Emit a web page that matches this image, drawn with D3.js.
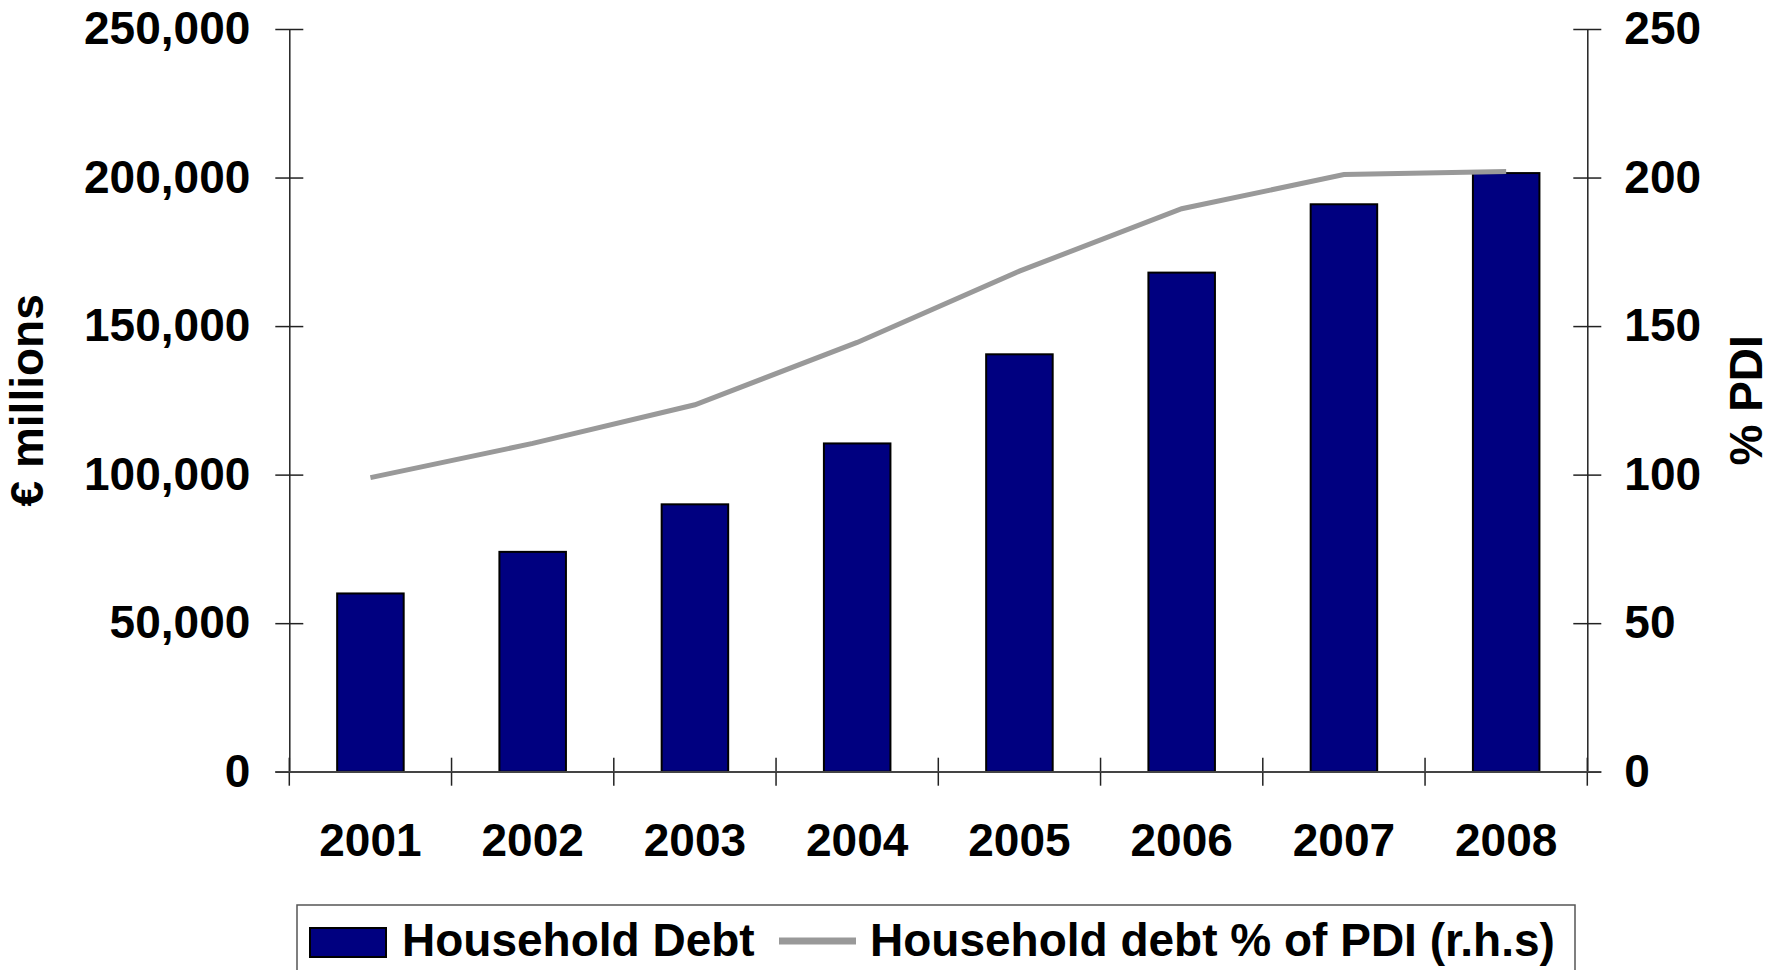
<!DOCTYPE html>
<html>
<head>
<meta charset="utf-8">
<script src="https://cdn.jsdelivr.net/npm/d3@7"></script>
<style>
  html, body { margin: 0; padding: 0; background: #fff; }
  svg { display: block; }
  text { font-family: "Liberation Sans", Arial, sans-serif; font-weight: bold; fill: #000; }
</style>
</head>
<body>
<svg id="chart" width="1777" height="970"></svg>
<script>
// ---- data ----
const years = ["2001", "2002", "2003", "2004", "2005", "2006", "2007", "2008"];
const householdDebt = [60000, 74000, 90000, 110500, 140500, 168000, 191000, 201500];
const debtPctPDI = [99, 110.5, 123.5, 144.5, 168.5, 189.5, 201, 202];
const leftTicks = [0, 50000, 100000, 150000, 200000, 250000];
const rightTicks = [0, 50, 100, 150, 200, 250];
const seriesNames = ["Household Debt", "Household debt % of PDI (r.h.s)"];
const axisTitles = ["€ millions", "% PDI"];

// ---- layout ----
const svg = d3.select("#chart");
const X0 = 289.3, X1 = 1587.3, Y0 = 771.7, Y1 = 29;
const FS = 46;

const x = d3.scaleBand().domain(years).range([X0, X1]).padding(0);
const yL = d3.scaleLinear().domain([0, 250000]).range([Y0, Y1]);
const yR = d3.scaleLinear().domain([0, 250]).range([Y0, Y1]);
const barW = x.bandwidth() * 0.41;

// bars
svg.append("g").selectAll("rect").data(householdDebt).join("rect")
  .attr("x", (d, i) => x(years[i]) + x.bandwidth() / 2 - barW / 2)
  .attr("y", d => yL(d))
  .attr("width", barW)
  .attr("height", d => yL(0) - yL(d))
  .attr("fill", "#000080")
  .attr("stroke", "#000")
  .attr("stroke-width", 2);

// left axis
const gL = svg.append("g").attr("transform", `translate(${X0},0)`)
  .call(d3.axisLeft(yL).tickValues(leftTicks).tickFormat(d3.format(",")).tickSize(14).tickSizeOuter(0).tickPadding(25));
gL.selectAll(".tick line").attr("x1", -14).attr("x2", 14).attr("stroke", "#222").attr("stroke-width", 1.5);
gL.select(".domain").attr("stroke", "#222").attr("stroke-width", 1.5);
gL.selectAll("text").style("font-size", FS + "px").style("font-family", "'Liberation Sans', Arial, sans-serif").style("font-weight", "bold").attr("fill", "#000");

// right axis
const gR = svg.append("g").attr("transform", `translate(${X1},0)`)
  .call(d3.axisRight(yR).tickValues(rightTicks).tickSize(14).tickSizeOuter(0).tickPadding(23));
gR.selectAll(".tick line").attr("x1", -14).attr("x2", 14).attr("stroke", "#222").attr("stroke-width", 1.5);
gR.select(".domain").attr("stroke", "#222").attr("stroke-width", 1.5);
gR.selectAll("text").style("font-size", FS + "px").style("font-family", "'Liberation Sans', Arial, sans-serif").style("font-weight", "bold").attr("fill", "#000");

// bottom axis (labels at band centres, ticks at band edges)
const gB = svg.append("g").attr("transform", `translate(0,${Y0})`)
  .call(d3.axisBottom(x).tickSize(0).tickSizeOuter(0).tickPadding(52));
gB.select(".domain").attr("stroke", "#444").attr("stroke-width", 1.5);
gB.selectAll("text").style("font-size", FS + "px").style("font-family", "'Liberation Sans', Arial, sans-serif").style("font-weight", "bold").attr("fill", "#000");
const edges = years.map(d => x(d)).concat([x.range()[1]]);
svg.append("g").selectAll("line").data(edges).join("line")
  .attr("x1", d => d).attr("x2", d => d)
  .attr("y1", Y0 - 14).attr("y2", Y0 + 14)
  .attr("stroke", "#222").attr("stroke-width", 1.5);
svg.append("line").attr("x1", X0 - 14).attr("x2", X1 + 14).attr("y1", Y0).attr("y2", Y0)
  .attr("stroke", "#444").attr("stroke-width", 1.5);

// line series
const line = d3.line()
  .x((d, i) => x(years[i]) + x.bandwidth() / 2)
  .y(d => yR(d));
svg.append("path").datum(debtPctPDI)
  .attr("d", line)
  .attr("fill", "none")
  .attr("stroke", "#999999")
  .attr("stroke-width", 5)
  .attr("stroke-linejoin", "miter");

// axis titles
svg.append("text")
  .attr("transform", `translate(43,${(Y0 + Y1) / 2}) rotate(-90)`)
  .attr("text-anchor", "middle")
  .style("font-size", FS + "px")
  .text(axisTitles[0]);
svg.append("text")
  .attr("transform", `translate(1762,${(Y0 + Y1) / 2}) rotate(-90)`)
  .attr("text-anchor", "middle")
  .style("font-size", FS + "px")
  .text(axisTitles[1]);

// legend
const lg = svg.append("g");
lg.append("rect").attr("x", 297).attr("y", 905).attr("width", 1278).attr("height", 100)
  .attr("fill", "#fff").attr("stroke", "#555").attr("stroke-width", 1.5);
lg.append("rect").attr("x", 310).attr("y", 928).attr("width", 76).attr("height", 29)
  .attr("fill", "#000080").attr("stroke", "#000").attr("stroke-width", 2);
lg.append("text").attr("x", 402).attr("y", 956).style("font-size", FS + "px").text(seriesNames[0]);
lg.append("line").attr("x1", 779).attr("x2", 856).attr("y1", 941).attr("y2", 941)
  .attr("stroke", "#999999").attr("stroke-width", 7);
lg.append("text").attr("x", 870).attr("y", 956).style("font-size", FS + "px").text(seriesNames[1]);
</script>
</body>
</html>
